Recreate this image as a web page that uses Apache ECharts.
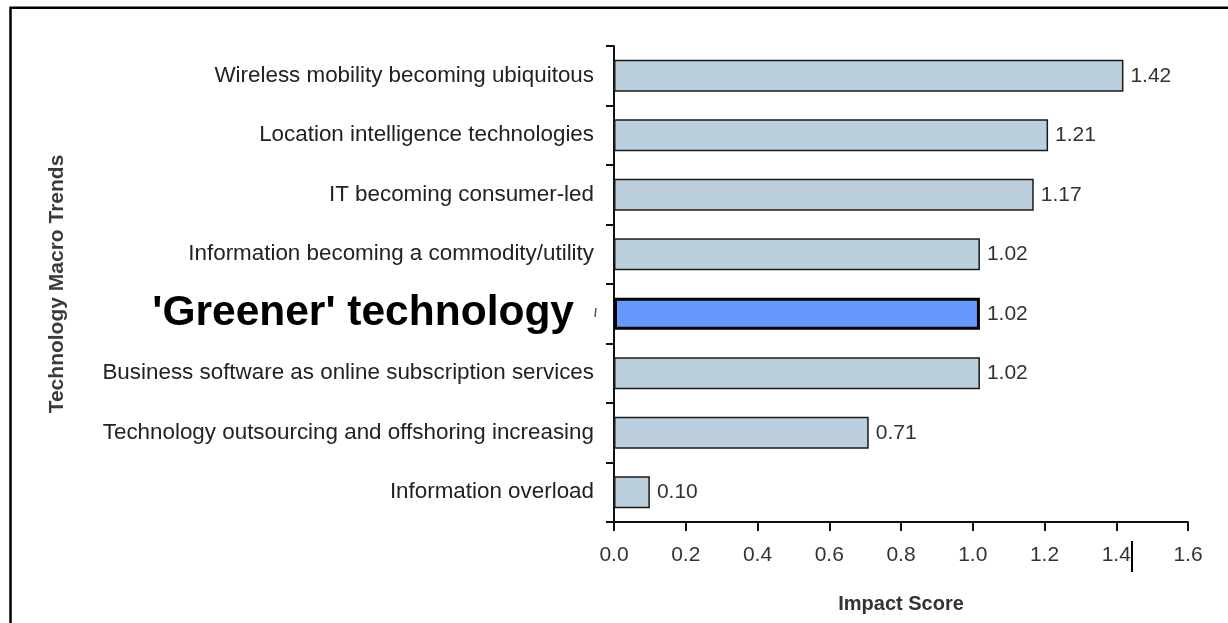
<!DOCTYPE html>
<html>
<head>
<meta charset="utf-8">
<style>
html,body{margin:0;padding:0;background:#fff;}
#chart{width:1228px;height:623px;}
</style>
<script src="https://cdn.jsdelivr.net/npm/echarts@6/dist/echarts.min.js"></script>
</head>
<body>
<div id="chart"></div>
<script>
const categories = [
  "Wireless mobility becoming ubiquitous",
  "Location intelligence technologies",
  "IT becoming consumer-led",
  "Information becoming a commodity/utility",
  "'Greener' technology",
  "Business software as online subscription services",
  "Technology outsourcing and offshoring increasing",
  "Information overload"
];
const scores = [1.42, 1.21, 1.17, 1.02, 1.02, 1.02, 0.71, 0.10];
const highlightCategory = "'Greener' technology";
const xTicks = { min: 0, max: 1.6, interval: 0.2 };

const chart = echarts.init(document.getElementById('chart'));
const FONT = 'Liberation Sans, Arial, sans-serif';

const barData = scores.map((v, i) => {
  const hl = categories[i] === highlightCategory;
  return {
    value: v,
    itemStyle: hl
      ? { color: '#6699ff', borderColor: '#000', borderWidth: 3 }
      : { color: '#bccfdc', borderColor: '#1a1a1a', borderWidth: 1.5 }
  };
});

chart.setOption({
  backgroundColor: '#fff',
  animation: false,
  grid: { left: 614, right: 40, top: 46, bottom: 101, containLabel: false },
  xAxis: {
    type: 'value',
    min: xTicks.min, max: xTicks.max, interval: xTicks.interval,
    name: 'Impact Score',
    nameLocation: 'middle',
    nameGap: 72,
    nameTextStyle: { fontFamily: FONT, fontSize: 20, fontWeight: 'bold', color: '#333' },
    axisLine: { show: true, lineStyle: { color: '#111', width: 2 } },
    axisTick: { show: true, length: 9, lineStyle: { color: '#111', width: 2 } },
    axisLabel: {
      margin: 23, fontFamily: FONT, fontSize: 21, color: '#333',
      formatter: v => v.toFixed(1)
    },
    splitLine: { show: false }
  },
  yAxis: {
    type: 'category',
    data: categories,
    inverse: true,
    name: 'Technology Macro Trends',
    nameLocation: 'middle',
    nameRotate: 90,
    nameGap: 546,
    nameTextStyle: { fontFamily: FONT, fontSize: 21, fontWeight: 'bold', color: '#3a3a3a' },
    axisLine: { show: true, lineStyle: { color: '#111', width: 2 } },
    axisTick: { show: true, length: 8, lineStyle: { color: '#111', width: 2 } },
    axisLabel: {
      margin: 20, fontFamily: FONT, fontSize: 22.4, color: '#222',
      formatter: v => v === highlightCategory ? '{hl|' + v + '}' : v,
      rich: {
        hl: { fontFamily: FONT, fontSize: 42.5, fontWeight: 'bold', color: '#000', padding: [0, 20, 0, 0] }
      }
    }
  },
  series: [{
    type: 'bar',
    data: barData,
    barCategoryGap: '46%',
    label: {
      show: true, position: 'right', distance: 7,
      fontFamily: FONT, fontSize: 21, color: '#333',
      formatter: p => p.value.toFixed(2)
    }
  }],
  graphic: [
    { type: 'rect', shape: { x: 10.5, y: 7.8, width: 1300, height: 700 },
      style: { fill: 'none', stroke: '#000', lineWidth: 2.5 }, z: 100 },
    { type: 'line', shape: { x1: 1132, y1: 541, x2: 1132, y2: 572 },
      style: { stroke: '#000', lineWidth: 2 }, z: 100 },
    { type: 'line', shape: { x1: 596, y1: 308, x2: 595, y2: 317 },
      style: { stroke: '#555', lineWidth: 1.5 }, z: 100 }
  ]
});
</script>
</body>
</html>
